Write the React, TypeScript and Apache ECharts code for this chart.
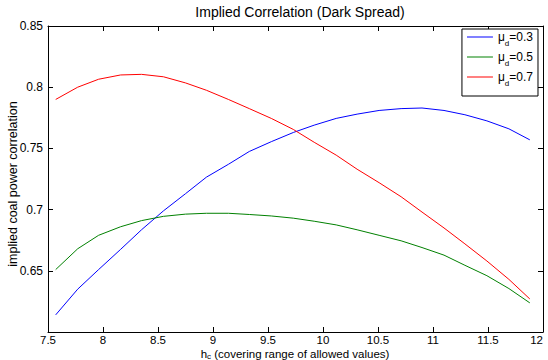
import React, { useEffect, useRef } from "react";
import * as echarts from "echarts";

const hValues = [7.57, 7.77, 7.96, 8.16, 8.35, 8.55, 8.75, 8.94, 9.14, 9.33, 9.53, 9.73, 9.92, 10.12, 10.31, 10.51, 10.71, 10.9, 11.1, 11.29, 11.49, 11.69, 11.88];
const mu03 = [0.614, 0.635, 0.651, 0.6675, 0.6835, 0.699, 0.713, 0.7265, 0.737, 0.7475, 0.7555, 0.763, 0.769, 0.7745, 0.778, 0.781, 0.7825, 0.783, 0.781, 0.7775, 0.7725, 0.766, 0.757];
const mu05 = [0.651, 0.668, 0.679, 0.686, 0.691, 0.6945, 0.6963, 0.697, 0.697, 0.696, 0.6948, 0.693, 0.6905, 0.6875, 0.6835, 0.679, 0.6745, 0.669, 0.6628, 0.6545, 0.646, 0.6355, 0.6238];
const mu07 = [0.79, 0.8, 0.8065, 0.81, 0.8105, 0.8085, 0.8035, 0.7975, 0.79, 0.7825, 0.7745, 0.7655, 0.755, 0.7445, 0.733, 0.722, 0.7105, 0.698, 0.685, 0.672, 0.658, 0.643, 0.627];
const seriesNames = ["0.3", "0.5", "0.7"];
const seriesColors = ["#0000ff", "#008000", "#ff0000"];

const FONT = "Liberation Sans, Arial, Helvetica, sans-serif";

export default function App() {
  const ref = useRef<HTMLDivElement>(null);
  useEffect(() => {
    if (!ref.current) return;
    const chart = echarts.init(ref.current, null, { renderer: "svg" });
    const allData = [mu03, mu05, mu07];
    const tickLine = { show: true, inside: true, length: 5, lineStyle: { color: "#000", width: 1 } };
    const axisLine = { show: true, onZero: false, lineStyle: { color: "#000", width: 1 } };
    const legendRich = {
      m: { fontSize: 12, fontFamily: FONT, color: "#000", lineHeight: 20, verticalAlign: "middle" },
      s: { fontSize: 8, fontFamily: FONT, color: "#000", lineHeight: 20, verticalAlign: "bottom" },
    };
    const nameRich = {
      m: { fontSize: 11.5, fontFamily: FONT, fill: "#000", lineHeight: 11, verticalAlign: "top" },
      s: { fontSize: 8, fontFamily: FONT, fill: "#000", lineHeight: 12, verticalAlign: "bottom" },
    };
    chart.setOption({
      animation: false,
      backgroundColor: "#fff",
      title: {
        text: "Implied Correlation (Dark Spread)",
        left: 295,
        textAlign: "center",
        top: 0,
        textStyle: { fontSize: 14, fontWeight: "normal", color: "#000", fontFamily: FONT },
      },
      grid: { left: 48, right: 5, top: 26, bottom: 28, show: false, containLabel: false, outerBoundsMode: "none" },
      legend: {
        orient: "vertical",
        right: 10,
        top: 29,
        data: seriesNames.map((n) => "μd=" + n),
        formatter: (name: string) => "{m|μ}{s|d}{m|" + name.slice(2) + "}",
        textStyle: { rich: legendRich, fontSize: 12, fontFamily: FONT },
        icon: "rect",
        itemWidth: 26,
        itemHeight: 1,
        itemGap: 4,
        borderColor: "#000",
        borderWidth: 1,
        backgroundColor: "#fff",
        padding: [2, 5, 9, 5],
        borderRadius: 0,
      },
      graphic: [
        {
          type: "text",
          x: 13,
          y: 184,
          rotation: Math.PI / 2,
          style: {
            text: "implied coal power correlation",
            fill: "#000",
            fontSize: 12.5,
            fontFamily: FONT,
            align: "center",
            verticalAlign: "middle",
          },
        },
        {
          type: "text",
          x: 295,
          y: 348,
          style: {
            text: "{m|h}{s|c}{m| (covering range of allowed values)}",
            rich: nameRich,
            fill: "#000",
            fontSize: 11.5,
            fontFamily: FONT,
            align: "center",
            verticalAlign: "top",
          },
        },
      ],
      xAxis: [
        {
          type: "value",
          min: 7.5,
          max: 12,
          interval: 0.5,
          axisLine,
          axisTick: tickLine,
          splitLine: { show: false },
          axisLabel: {
            color: "#000",
            fontSize: 11.5,
            fontFamily: FONT,
            margin: 3,
            lineHeight: 10,
            alignMaxLabel: "right",
            formatter: (v: number) => String(v),
          },
        },
        {
          type: "value",
          position: "top",
          min: 7.5,
          max: 12,
          interval: 0.5,
          axisLine,
          axisTick: tickLine,
          splitLine: { show: false },
          axisLabel: { show: false },
        },
      ],
      yAxis: [
        {
          type: "value",
          min: 0.6,
          max: 0.85,
          interval: 0.05,
          axisLine,
          axisTick: tickLine,
          splitLine: { show: false },
          axisLabel: {
            color: "#000",
            fontSize: 12,
            fontFamily: FONT,
            margin: 5,
            formatter: (v: number) => (Math.abs(v - 0.6) < 1e-9 ? "" : String(Math.round(v * 100) / 100)),
          },
        },
        {
          type: "value",
          position: "right",
          min: 0.6,
          max: 0.85,
          interval: 0.05,
          axisLine,
          axisTick: tickLine,
          splitLine: { show: false },
          axisLabel: { show: false },
        },
      ],
      series: seriesNames.map((n, i) => ({
        name: "μd=" + n,
        type: "line",
        symbol: "none",
        showSymbol: false,
        data: hValues.map((h, j) => [h, allData[i][j]]),
        lineStyle: { color: seriesColors[i], width: 1 },
        itemStyle: { color: seriesColors[i] },
      })),
    });
    return () => chart.dispose();
  }, []);
  return <div ref={ref} style={{ position: "fixed", left: 0, top: 0, width: 548, height: 360 }} />;
}
